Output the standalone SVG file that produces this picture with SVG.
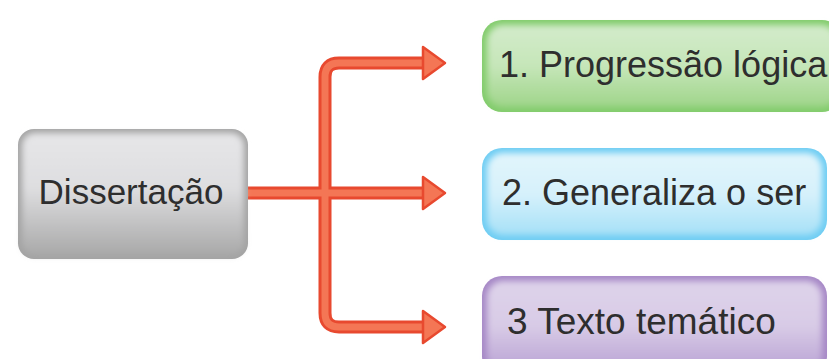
<svg xmlns="http://www.w3.org/2000/svg" width="829" height="359" viewBox="0 0 829 359">
<style>
.lbl{font-family:"Liberation Sans",Arial,sans-serif;font-size:36px;fill:#2e2e2e}
.wire{fill:none;stroke:#e8492f;stroke-width:13;stroke-linejoin:round}
.wire-in{fill:none;stroke:#f47655;stroke-width:7;stroke-linejoin:round}
.head{fill:#f47655;stroke:#e8492f;stroke-width:2.5;stroke-linejoin:round}
</style>
<defs>
<linearGradient id="gGray" x1="0" y1="0" x2="0" y2="1">
<stop offset="0" stop-color="#e6e6e8"/>
<stop offset="0.45" stop-color="#dedee0"/>
<stop offset="1" stop-color="#a9a9a9"/>
</linearGradient>
<linearGradient id="gGreen" x1="0" y1="0" x2="0" y2="1">
<stop offset="0" stop-color="#d3ebcb"/>
<stop offset="0.5" stop-color="#c6e6b9"/>
<stop offset="1" stop-color="#9fd58a"/>
</linearGradient>
<linearGradient id="gBlue" x1="0" y1="0" x2="0" y2="1">
<stop offset="0" stop-color="#e2f5fc"/>
<stop offset="0.5" stop-color="#d6f1fb"/>
<stop offset="1" stop-color="#a6e0f7"/>
</linearGradient>
<linearGradient id="gPurple" x1="0" y1="0" x2="0" y2="1">
<stop offset="0" stop-color="#ded3ea"/>
<stop offset="0.5" stop-color="#d8cbe6"/>
<stop offset="1" stop-color="#b9a2d4"/>
</linearGradient>
<filter id="soft" x="-5%" y="-10%" width="110%" height="120%">
<feGaussianBlur stdDeviation="3"/>
</filter>
</defs>

<g id="connectors">
<path class="wire" d="M248,193 H424"/>
<path class="wire" d="M424,63 H339 Q325,63 325,77 V313 Q325,327 339,327 H424"/>
<path class="wire-in" d="M248,193 H426"/>
<path class="wire-in" d="M426,63 H339 Q325,63 325,77 V313 Q325,327 339,327 H426"/>
<polygon class="head" points="423,47 445,63 423,79"/>
<polygon class="head" points="423,177 445,193 423,209"/>
<polygon class="head" points="423,311 445,327 423,343"/>
</g>

<g id="node-dissertacao">
<rect x="18" y="129" width="230" height="130" rx="16" fill="#a3a3a3"/>
<rect x="22" y="133" width="222" height="122" rx="13" fill="url(#gGray)" filter="url(#soft)"/>
<text class="lbl" x="131" y="204" text-anchor="middle" style="font-size:35px">Dissertação</text>
</g>

<g id="node-1">
<rect x="482" y="20" width="360" height="92" rx="20" fill="#82cc6c"/>
<rect x="487" y="25" width="350" height="82" rx="16" fill="url(#gGreen)" filter="url(#soft)"/>
<text class="lbl" x="499" y="77">1. Progressão lógica</text>
</g>

<g id="node-2">
<rect x="482" y="148" width="345" height="92" rx="20" fill="#6fcdf3"/>
<rect x="487" y="153" width="335" height="82" rx="16" fill="url(#gBlue)" filter="url(#soft)"/>
<text class="lbl" x="502" y="205">2. Generaliza o ser</text>
</g>

<g id="node-3">
<rect x="482" y="276" width="345" height="100" rx="20" fill="#a688c6"/>
<rect x="487" y="281" width="335" height="90" rx="16" fill="url(#gPurple)" filter="url(#soft)"/>
<text class="lbl" x="507" y="334" style="font-size:37px">3 Texto temático</text>
</g>
</svg>
